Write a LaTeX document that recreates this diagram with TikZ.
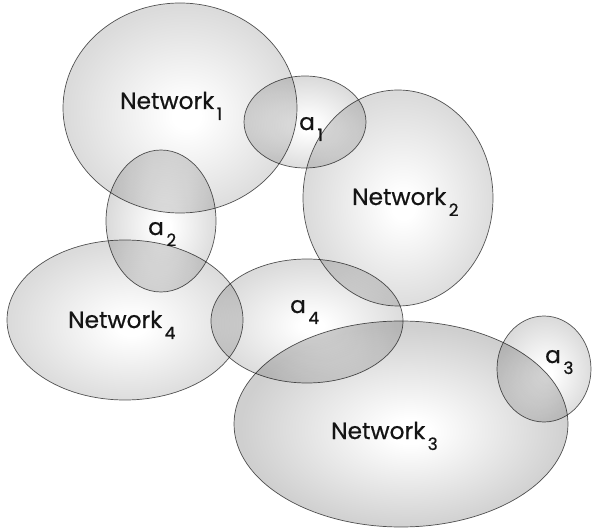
\documentclass[tikz,border=0pt]{standalone}
\usepackage{fontspec}
\setmainfont{Poppins}
\newfontface\labelface{Poppins}[FakeBold=0.6]
\usetikzlibrary{calc}

% soft white-to-grey glow used for every area
\pgfdeclareradialshading{netglow}{\pgfpoint{1.5bp}{-2bp}}{%
  color(0bp)=(white); color(3bp)=(white); color(25bp)=(black!14); color(50bp)=(black!14)}
\pgfdeclareradialshading{netglowdeep}{\pgfpoint{1.5bp}{-2bp}}{%
  color(0bp)=(white); color(3bp)=(white); color(25bp)=(black!19); color(50bp)=(black!19)}

\definecolor{rimline}{gray}{0.35}
\definecolor{inkdark}{gray}{0.08}

\newcommand\subidx[1]{\kern2.5pt\raisebox{-11pt}{\fontsize{17}{17}\selectfont #1}}

\tikzset{
  zone/.style={draw=rimline, line width=0.7pt, shade, shading=netglow, blend mode=multiply},
  deepzone/.style={zone, shading=netglowdeep},
  lbl/.style={anchor=base west, inner sep=0pt, text=inkdark, font=\labelface\fontsize{23.3}{23.3}\selectfont},
}

\begin{document}
\begin{tikzpicture}[x=1pt, y=-1pt]
  \useasboundingbox (0,0) rectangle (592,529);

  % networks and the areas where they meet
  \path[zone]     (180,108) ellipse [x radius=117pt, y radius=105pt];
  \path[zone]     (398,198) ellipse [x radius=95pt,  y radius=108pt];
  \path[zone]     (125,320) ellipse [x radius=118pt, y radius=80pt];
  \path[deepzone] (401,424) ellipse [x radius=167pt, y radius=103pt];
  \path[zone]     (305,122) ellipse [x radius=61pt,  y radius=46pt];
  \path[zone]     (161,221) ellipse [x radius=55pt,  y radius=71pt];
  \path[zone]     (307,321) ellipse [x radius=96pt,  y radius=62pt];
  \path[zone]     (544,369) ellipse [x radius=47pt,  y radius=53pt];

  % labels
  \node[lbl] (net1) at (120,109) {Network\subidx{1}};
  \node[lbl] (net2) at (352,205) {Network\subidx{2}};
  \node[lbl] (net3) at (331,439) {Network\subidx{3}};
  \node[lbl] (net4) at (68,328)  {Network\subidx{4}};
  \node[lbl] (aa1) at (299,130) {a\subidx{1}};
  \node[lbl] (aa2) at (148,235) {a\subidx{2}};
  \node[lbl] (aa3) at (545,363) {a\subidx{3}};
  \node[lbl] (aa4) at (290,313) {a\subidx{4}};
\end{tikzpicture}
\end{document}
